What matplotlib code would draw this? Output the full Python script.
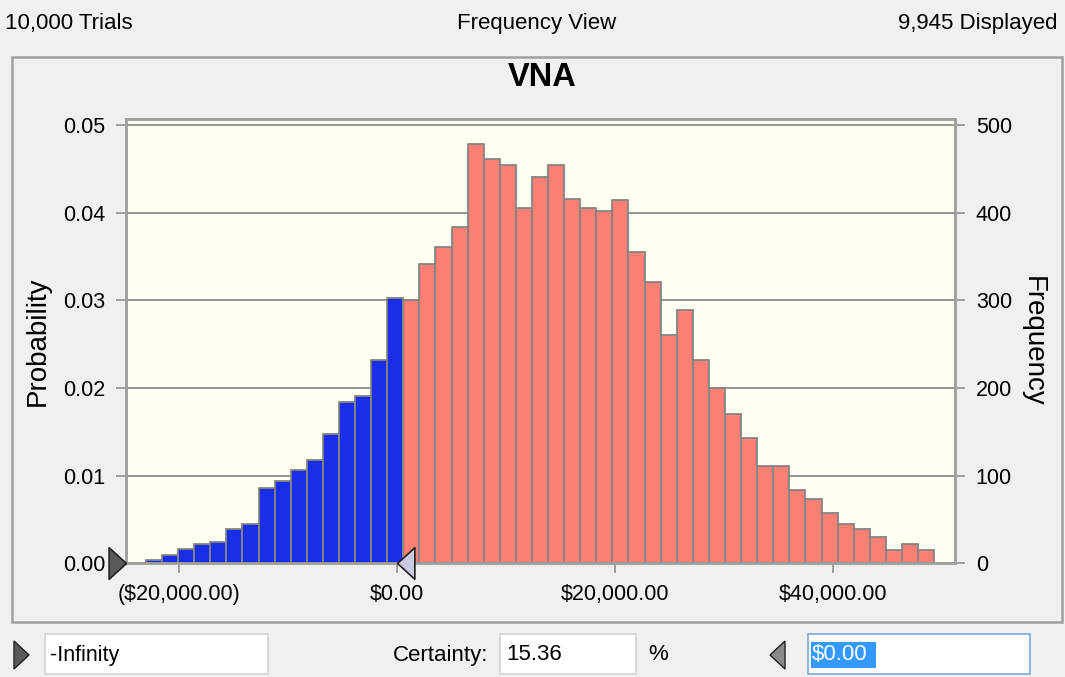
import matplotlib
matplotlib.use("Agg")
import matplotlib.pyplot as plt
import matplotlib.patches as mpatches
from matplotlib.ticker import FuncFormatter
import numpy as np

# data
trials = 10000
displayed = 9945
certainty = 15.36
bin_start = -23070.0
bin_width = 1477.0
counts = [4, 9, 16, 22, 24, 39, 45, 86, 94, 107, 118, 148, 184, 191, 232, 303,
          300, 341, 361, 384, 478, 461, 455, 405, 441, 455, 416, 405, 402, 414,
          355, 321, 261, 289, 232, 200, 170, 143, 111, 111, 84, 73, 57, 45, 39,
          30, 15, 22, 15]
upper_limit = 0.0
x_ticks = [-20000, 0, 20000, 40000]
freq_ticks = [0, 100, 200, 300, 400, 500]

plt.rcParams['font.family'] = ['Liberation Sans', 'DejaVu Sans']

W, H = 1065, 677
fig = plt.figure(figsize=(W / 100, H / 100), dpi=100)
fig.patch.set_facecolor('#f0f0f0')


def fx(px):
    return px / W


def fy(py):
    return 1 - py / H


# chart panel border
fig.patches.append(mpatches.Rectangle((fx(12), fy(622)), fx(1062) - fx(12), fy(57) - fy(622),
                                      transform=fig.transFigure, facecolor='none',
                                      edgecolor='#a0a0a0', lw=1.8))

ax = fig.add_axes([fx(126), fy(563.3), fx(955) - fx(126), fy(119) - fy(563.3)])
ax.set_facecolor('#fffff2')

counts = np.array(counts)
lefts = bin_start + bin_width * np.arange(len(counts))
colors = ['#1a2ee8' if l < upper_limit else '#f98072' for l in lefts]
ax.bar(lefts, counts, width=bin_width, align='edge', color=colors,
       edgecolor='#858585', linewidth=1.3, zorder=3)

ax.set_xlim(-24900, 51220)
ax.set_ylim(0, 507)
ax.set_yticks(freq_ticks)
ax.set_yticklabels(['{:.2f}'.format(f / trials) for f in freq_ticks])
ax.grid(axis='y', color='#8c8c8c', lw=1.3, zorder=1)
ax.set_xticks(x_ticks)


def money(v, pos):
    if v < 0:
        return '(${:,.2f})'.format(-v)
    return '${:,.2f}'.format(v)


ax.xaxis.set_major_formatter(FuncFormatter(money))

ax2 = ax.twinx()
ax2.set_ylim(ax.get_ylim())
ax2.set_yticks(freq_ticks)
ax2.set_yticklabels([str(f) for f in freq_ticks])

for a in (ax, ax2):
    for s in a.spines.values():
        s.set_color('#a0a0a0')
        s.set_linewidth(1.8)
    a.tick_params(axis='both', colors='#909090', labelcolor='black', labelsize=15.5,
                  length=7, width=1.2, pad=8)

ax.set_ylabel('Probability', fontsize=20, va='center')
ax.yaxis.set_label_coords(-0.106, 0.5)
ax2.set_ylabel('Frequency', fontsize=20, rotation=-90, va='center')
ax2.yaxis.set_label_coords(1.094, 0.5)

fig.text(fx(542), fy(78), 'VNA', fontsize=23.5, fontweight='bold', ha='center', va='center')

# certainty grabbers
tri_right = [(0, 0), (-1.1, 1), (-1.1, -1), (0, 0)]
tri_left = [(0, 0), (1.1, 1), (1.1, -1), (0, 0)]
ax2.plot([0], [0], marker=tri_right, markersize=25, color='#5a5a5a', markeredgecolor='#202020',
         markeredgewidth=1.2, transform=ax2.get_yaxis_transform(), clip_on=False, zorder=6)
ax2.plot([upper_limit], [0], marker=tri_left, markersize=25, color='#c9c9e0',
         markeredgecolor='#202020', markeredgewidth=1.2, clip_on=False, zorder=6)

# header
fig.text(fx(5), fy(23), '{:,} Trials'.format(trials), fontsize=16, ha='left', va='center')
fig.text(fx(537), fy(23), 'Frequency View', fontsize=16, ha='center', va='center')
fig.text(fx(1057), fy(23), '{:,} Displayed'.format(displayed), fontsize=16, ha='right', va='center')


# footer controls
def box(x0, x1, edge='#d4d4d4'):
    fig.patches.append(mpatches.Rectangle((fx(x0), fy(674)), fx(x1) - fx(x0), fy(634) - fy(674),
                                          transform=fig.transFigure, facecolor='white',
                                          edgecolor=edge, lw=1.2))


box(45, 268)
box(500, 636)
box(808, 1030, edge='#7aa9d8')
fig.patches.append(mpatches.Polygon([(fx(14), fy(641)), (fx(29), fy(655)), (fx(14), fy(669))],
                                    closed=True, transform=fig.transFigure,
                                    facecolor='#5a5a5a', edgecolor='#202020', lw=1))
fig.patches.append(mpatches.Polygon([(fx(785), fy(641)), (fx(770), fy(655)), (fx(785), fy(669))],
                                    closed=True, transform=fig.transFigure,
                                    facecolor='#8a8a8a', edgecolor='#202020', lw=1))
fig.patches.append(mpatches.Rectangle((fx(811), fy(668)), fx(876) - fx(811), fy(642) - fy(668),
                                      transform=fig.transFigure, facecolor='#3399ff', lw=0))
fig.text(fx(50), fy(655), '-Infinity', fontsize=15.5, ha='left', va='center')
fig.text(fx(488), fy(655), 'Certainty:', fontsize=16, ha='right', va='center')
fig.text(fx(506), fy(655), '{:.2f}'.format(certainty), fontsize=16, ha='left', va='center')
fig.text(fx(648), fy(655), '%', fontsize=16, ha='left', va='center')
fig.text(fx(812), fy(655), money(upper_limit, None), fontsize=16, ha='left', va='center',
         color='white')

fig.savefig('out.png', dpi=100, facecolor=fig.get_facecolor())
